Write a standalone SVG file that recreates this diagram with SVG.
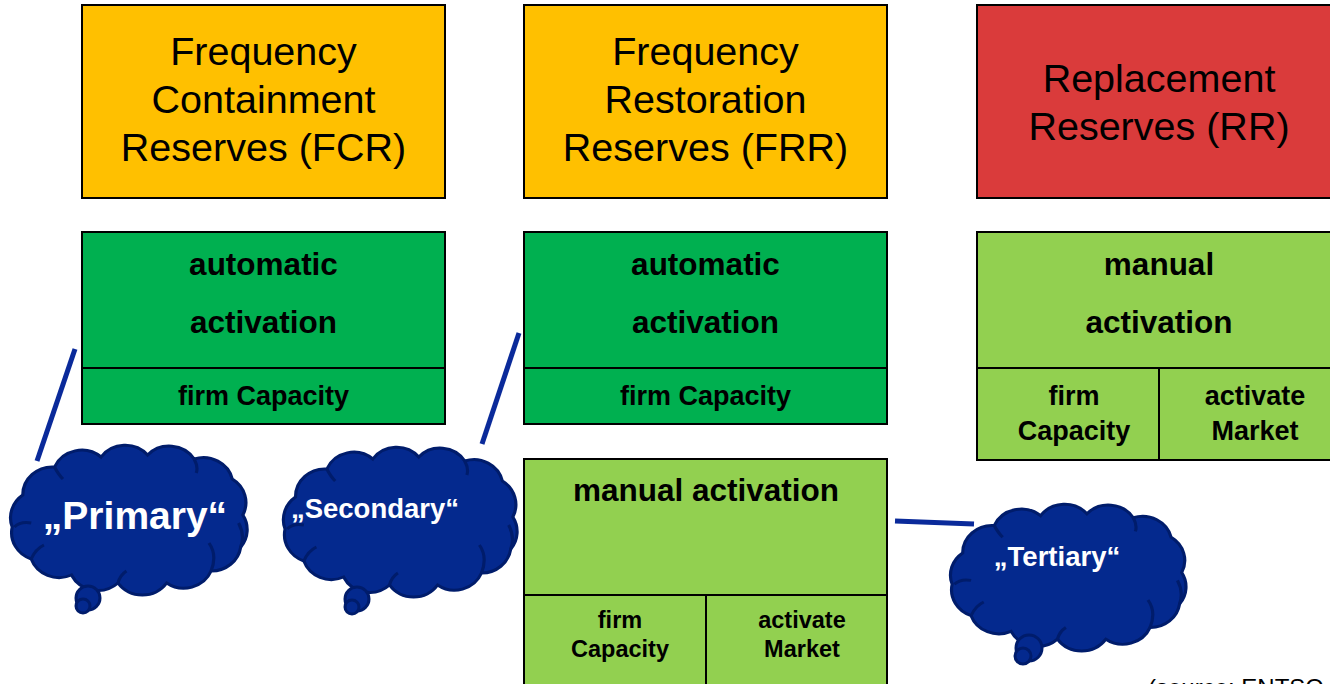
<svg xmlns="http://www.w3.org/2000/svg" width="1330" height="684" viewBox="0 0 1330 684">
<defs>
<style>
.box{stroke:#000;stroke-width:2}
.yel{fill:#FFC000}
.red{fill:#DA3B3B}
.dg{fill:#00B050}
.lg{fill:#92D050}
.div{stroke:#000;stroke-width:2;fill:none}
.t{font-family:"Liberation Sans",Arial,sans-serif;fill:#000;text-anchor:middle}
.h{font-size:39.5px}
.b{font-weight:bold}
.cloud{fill:#04298E;stroke:#001C6B;stroke-width:3}
.crease{fill:none;stroke:#001C6B;stroke-width:3}
.ct{font-family:"Liberation Sans",Arial,sans-serif;fill:#fff;font-weight:bold;text-anchor:middle}
.con{stroke:#0A2A9A;stroke-width:5;fill:none}
</style>
<path id="cl" d="M22,52 A28,28 0 0 1 52,24 A28,28 0 0 1 96,14 A28,28 0 0 1 140,12 A28,28 0 0 1 184,16 A28,28 0 0 1 220,36 A28,28 0 0 1 230,72 A28,28 0 0 1 228,104 A28,28 0 0 1 200,128 A28,28 0 0 1 158,140 A28,28 0 0 1 112,140 A28,28 0 0 1 68,132 A28,28 0 0 1 30,116 A28,28 0 0 1 12,84 A28,28 0 0 1 22,52 Z"/>
<path id="cr" d="M14,84 Q20,78 30,80 M30,116 Q34,106 42,102 M112,140 Q114,132 120,128 M200,128 Q206,112 198,100 M228,104 Q232,92 226,80 M52,24 Q56,32 60,36 M184,16 Q188,24 186,30"/>
</defs>
<rect width="1330" height="684" fill="#fff"/>

<g id="connectors">
<line class="con" x1="75" y1="349" x2="37" y2="461"/>
<line class="con" x1="519" y1="333" x2="482" y2="444"/>
<line class="con" x1="895" y1="521" x2="974" y2="524"/>
</g>

<g id="fcr">
<rect class="box yel" x="82" y="5" width="363" height="193"/>
<text class="t h" x="263.5" y="65">Frequency</text>
<text class="t h" x="263.5" y="113">Containment</text>
<text class="t h" x="263.5" y="161">Reserves (FCR)</text>
</g>
<g id="frr">
<rect class="box yel" x="524" y="5" width="363" height="193"/>
<text class="t h" x="705.5" y="65">Frequency</text>
<text class="t h" x="705.5" y="113">Restoration</text>
<text class="t h" x="705.5" y="161">Reserves (FRR)</text>
</g>
<g id="rr">
<rect class="box red" x="977" y="5" width="364" height="193"/>
<text class="t h" x="1159" y="92">Replacement</text>
<text class="t h" x="1159" y="140">Reserves (RR)</text>
</g>

<g id="fcr-auto">
<rect class="box dg" x="82" y="232" width="363" height="192"/>
<line class="div" x1="82" y1="368" x2="445" y2="368"/>
<text class="t b" x="263.5" y="275" font-size="31.5">automatic</text>
<text class="t b" x="263.5" y="333" font-size="31.5">activation</text>
<text class="t b" x="263.5" y="405" font-size="27">firm Capacity</text>
</g>
<g id="frr-auto">
<rect class="box dg" x="524" y="232" width="363" height="192"/>
<line class="div" x1="524" y1="368" x2="887" y2="368"/>
<text class="t b" x="705.5" y="275" font-size="31.5">automatic</text>
<text class="t b" x="705.5" y="333" font-size="31.5">activation</text>
<text class="t b" x="705.5" y="405" font-size="27">firm Capacity</text>
</g>
<g id="rr-manual">
<rect class="box lg" x="977" y="232" width="364" height="228"/>
<line class="div" x1="977" y1="368" x2="1341" y2="368"/>
<line class="div" x1="1159" y1="368" x2="1159" y2="460"/>
<text class="t b" x="1159" y="275" font-size="31.5">manual</text>
<text class="t b" x="1159" y="333" font-size="31.5">activation</text>
<text class="t b" x="1074" y="405" font-size="27">firm</text>
<text class="t b" x="1074" y="440" font-size="27">Capacity</text>
<text class="t b" x="1255" y="405" font-size="27">activate</text>
<text class="t b" x="1255" y="440" font-size="27">Market</text>
</g>
<g id="frr-manual">
<rect class="box lg" x="524" y="459" width="363" height="240"/>
<line class="div" x1="524" y1="595" x2="887" y2="595"/>
<line class="div" x1="706" y1="595" x2="706" y2="699"/>
<text class="t b" x="706" y="501" font-size="31.5">manual activation</text>
<text class="t b" x="620" y="628" font-size="23.5">firm</text>
<text class="t b" x="620" y="657" font-size="23.5">Capacity</text>
<text class="t b" x="802" y="628" font-size="23.5">activate</text>
<text class="t b" x="802" y="657" font-size="23.5">Market</text>
</g>

<g id="primary">
<use href="#cl" class="cloud" transform="translate(-0.5,443) scale(1.058,1)"/>
<use href="#cr" class="crease" transform="translate(-0.5,443) scale(1.058,1)"/>
<circle class="cloud" cx="88" cy="598" r="12"/>
<circle class="cloud" cx="83" cy="606" r="7"/>
<text class="ct" x="135" y="529" font-size="39">„Primary“</text>
</g>
<g id="secondary">
<use href="#cl" class="cloud" transform="translate(272.5,445) scale(1.045,1)"/>
<use href="#cr" class="crease" transform="translate(272.5,445) scale(1.045,1)"/>
<circle class="cloud" cx="357" cy="599" r="12"/>
<circle class="cloud" cx="352" cy="607" r="7"/>
<text class="ct" x="375" y="518" font-size="27.5">„Secondary“</text>
</g>
<g id="tertiary">
<use href="#cl" class="cloud" transform="translate(939.5,502) scale(1.053,0.98)"/>
<use href="#cr" class="crease" transform="translate(939.5,502) scale(1.053,0.98)"/>
<circle class="cloud" cx="1029" cy="648" r="13"/>
<circle class="cloud" cx="1023" cy="656" r="8"/>
<text class="ct" x="1057" y="566" font-size="27.5">„Tertiary“</text>
</g>

<text id="source" x="1148" y="695.5" font-family="Liberation Sans, Arial, sans-serif" font-size="24" fill="#000">(source: ENTSO-E)</text>
</svg>
